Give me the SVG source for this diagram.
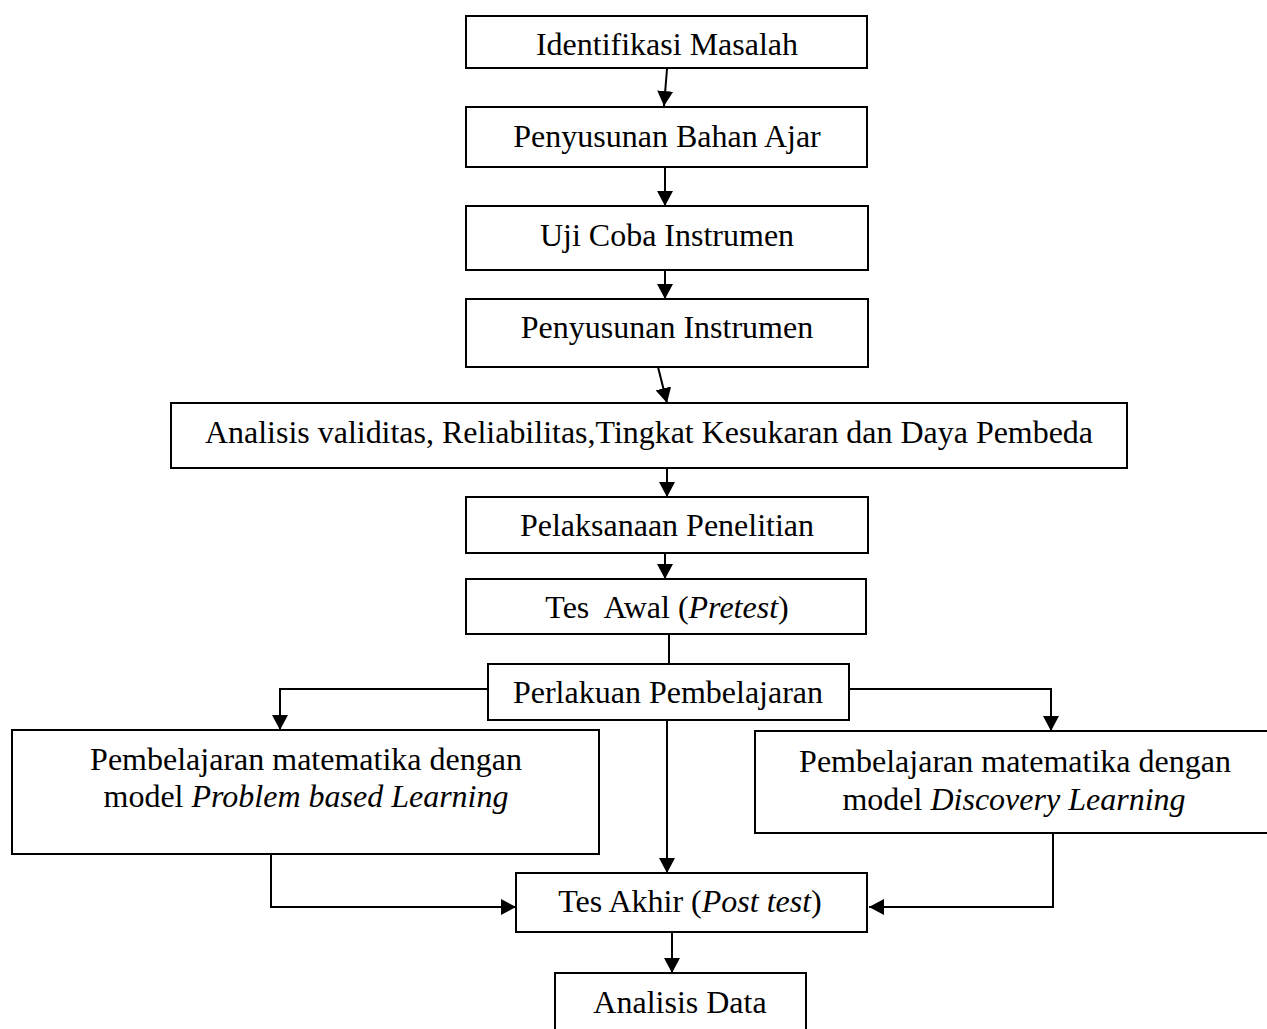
<svg xmlns="http://www.w3.org/2000/svg" width="1267" height="1029" viewBox="0 0 1267 1029">
<defs>
<style>
.box{fill:#fff;stroke:#000;stroke-width:2}
.t{font-family:"Liberation Serif","Times New Roman",serif;font-size:32px;fill:#000;text-anchor:middle}
.i{font-style:italic}
.c{fill:none;stroke:#000;stroke-width:2}
</style>
<marker id="ah" viewBox="0 0 15 16" refX="15" refY="8" markerWidth="15" markerHeight="16" markerUnits="userSpaceOnUse" orient="auto">
<path d="M0,0 L15,8 L0,16 z" fill="#000"/>
</marker>
</defs>
<rect width="1267" height="1029" fill="#fff"/>
<g id="connectors">
<line class="c" x1="667" y1="69" x2="664" y2="106" marker-end="url(#ah)"/>
<line class="c" x1="665" y1="167" x2="665" y2="206" marker-end="url(#ah)"/>
<line class="c" x1="665" y1="270" x2="665" y2="299" marker-end="url(#ah)"/>
<line class="c" x1="658" y1="367" x2="667" y2="403" marker-end="url(#ah)"/>
<line class="c" x1="667" y1="468" x2="667" y2="497" marker-end="url(#ah)"/>
<line class="c" x1="665" y1="553" x2="665" y2="579" marker-end="url(#ah)"/>
<line class="c" x1="669" y1="634" x2="669" y2="664"/>
<polyline class="c" points="488,689 280,689 280,730" marker-end="url(#ah)"/>
<polyline class="c" points="849,689 1051,689 1051,731" marker-end="url(#ah)"/>
<line class="c" x1="667" y1="720" x2="667" y2="873" marker-end="url(#ah)"/>
<polyline class="c" points="271,854 271,907 516,907" marker-end="url(#ah)"/>
<polyline class="c" points="1053,833 1053,907 869,907" marker-end="url(#ah)"/>
<line class="c" x1="672" y1="932" x2="672" y2="973" marker-end="url(#ah)"/>
</g>
<g id="n1"><rect class="box" x="466" y="16" width="401" height="52"/><text class="t" x="667" y="55">Identifikasi Masalah</text></g>
<g id="n2"><rect class="box" x="466" y="107" width="401" height="60"/><text class="t" x="667" y="147">Penyusunan Bahan Ajar</text></g>
<g id="n3"><rect class="box" x="466" y="206" width="402" height="64"/><text class="t" x="667" y="246">Uji Coba Instrumen</text></g>
<g id="n4"><rect class="box" x="466" y="299" width="402" height="68"/><text class="t" x="667" y="338">Penyusunan Instrumen</text></g>
<g id="n5"><rect class="box" x="171" y="403" width="956" height="65"/><text class="t" x="649" y="443" textLength="888" lengthAdjust="spacingAndGlyphs">Analisis validitas, Reliabilitas,Tingkat Kesukaran dan Daya Pembeda</text></g>
<g id="n6"><rect class="box" x="466" y="497" width="402" height="56"/><text class="t" x="667" y="536">Pelaksanaan Penelitian</text></g>
<g id="n7"><rect class="box" x="466" y="579" width="400" height="55"/><text class="t" x="667" y="618" xml:space="preserve">Tes  Awal (<tspan class="i">Pretest</tspan>)</text></g>
<g id="n8"><rect class="box" x="488" y="664" width="361" height="56"/><text class="t" x="668" y="703">Perlakuan Pembelajaran</text></g>
<g id="n9"><rect class="box" x="12" y="730" width="587" height="124"/><text class="t" x="306" y="770">Pembelajaran matematika dengan</text><text class="t" x="306" y="807">model <tspan class="i">Problem based Learning</tspan></text></g>
<g id="n10"><rect class="box" x="755" y="731" width="520" height="102"/><text class="t" x="1015" y="772">Pembelajaran matematika dengan</text><text class="t" x="1014" y="810">model <tspan class="i">Discovery Learning</tspan></text></g>
<g id="n11"><rect class="box" x="516" y="873" width="351" height="59"/><text class="t" x="690" y="912">Tes Akhir (<tspan class="i">Post test</tspan>)</text></g>
<g id="n12"><rect class="box" x="555" y="973" width="251" height="70"/><text class="t" x="680" y="1013">Analisis Data</text></g>
</svg>
